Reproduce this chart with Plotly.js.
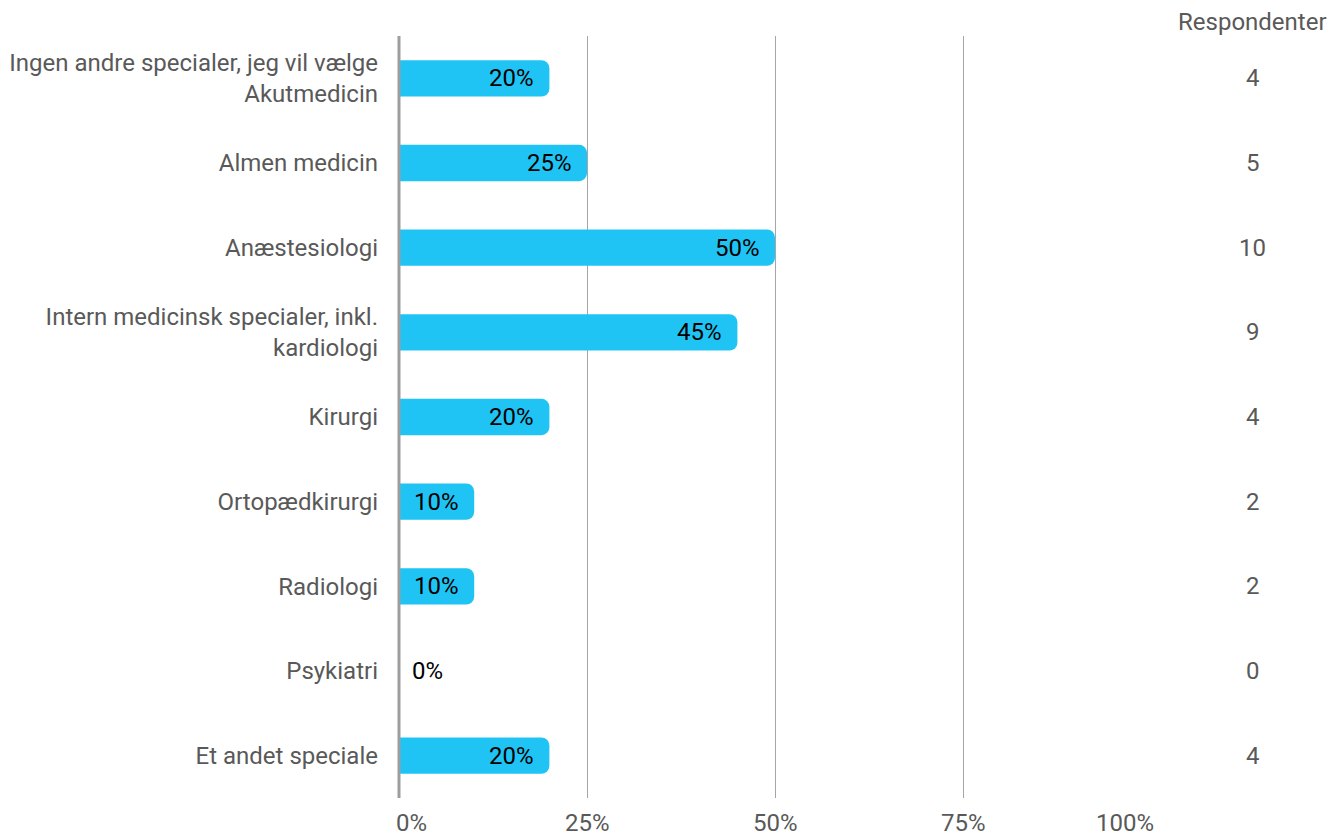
<!DOCTYPE html>
<html><head><meta charset="utf-8">
<script src="https://cdn.plot.ly/plotly-3.0.1.min.js"></script>
<style>html,body{margin:0;padding:0;background:#fff}#chart{width:1344px;height:834px}</style>
</head><body><div id="chart"></div>
<script>
const categories = [
  "Ingen andre specialer, jeg vil vælge<br>Akutmedicin",
  "Almen medicin",
  "Anæstesiologi",
  "Intern medicinsk specialer, inkl.<br>kardiologi",
  "Kirurgi",
  "Ortopædkirurgi",
  "Radiologi",
  "Psykiatri",
  "Et andet speciale"
];
const percentages = [20, 25, 50, 45, 20, 10, 10, 0, 20];
const respondents = [4, 5, 10, 9, 4, 2, 2, 0, 4];
const xTickValues = [0, 25, 50, 75, 100];
const xTickLabels = ["0%", "25%", "50%", "75%", "100%"];
const columnHeader = "Respondenter";

const FONT = "Roboto, 'Noto Sans', sans-serif";
const GRAY = "#595959";
const FS = 24;

const trace = {
  type: "bar",
  orientation: "h",
  y: categories,
  x: percentages,
  width: 0.43,
  marker: {color: "#20C4F4", cornerradius: 8},
  hoverinfo: "none",
  textposition: "none"
};

const annotations = [];
percentages.forEach((v, i) => {
  annotations.push({
    x: v, y: categories[i], xref: "x", yref: "y",
    text: v + "%", showarrow: false,
    xanchor: v > 0 ? "right" : "left",
    xshift: v > 0 ? -13 : 11,
    font: {family: FONT, size: FS, color: "#000"}
  });
  annotations.push({
    x: 1.1356, y: categories[i], xref: "paper", yref: "y",
    text: String(respondents[i]), showarrow: false,
    xanchor: "center",
    font: {family: FONT, size: FS, color: GRAY}
  });
});
xTickValues.forEach((v, i) => {
  annotations.push({
    x: v, y: 0, xref: "x", yref: "paper",
    text: xTickLabels[i], showarrow: false,
    xanchor: i === 0 ? "left" : (i === xTickValues.length - 1 ? "right" : "center"),
    xshift: i === 0 ? -5 : (i === xTickValues.length - 1 ? 5 : 0),
    yanchor: "top", yshift: -9,
    font: {family: FONT, size: FS, color: GRAY}
  });
});
annotations.push({
  x: 1.1356, y: 1.018, xref: "paper", yref: "paper",
  text: columnHeader, showarrow: false, xanchor: "center", yanchor: "middle",
  font: {family: FONT, size: FS, color: GRAY}
});

const layout = {
  width: 1344, height: 834,
  margin: {l: 399, r: 193, t: 36, b: 36},
  paper_bgcolor: "#fff", plot_bgcolor: "#fff",
  showlegend: false,
  font: {family: FONT, size: FS, color: GRAY},
  xaxis: {
    range: [0, 100], tickvals: xTickValues, showticklabels: false,
    showgrid: true, gridcolor: "#a6a6a6", gridwidth: 1,
    zeroline: false, showline: false, fixedrange: true, ticks: ""
  },
  yaxis: {
    autorange: "reversed", showgrid: false, zeroline: false,
    showline: false, ticks: "", ticklabelstandoff: 20,
    tickfont: {family: FONT, size: FS, color: GRAY}
  },
  shapes: [{
    type: "line", xref: "paper", yref: "paper", x0: 0, x1: 0, y0: 0, y1: 1,
    line: {color: "#9e9e9e", width: 3}
  }],
  annotations: annotations
};

Plotly.newPlot("chart", [trace], layout, {displayModeBar: false, staticPlot: true});
</script>
</body></html>
